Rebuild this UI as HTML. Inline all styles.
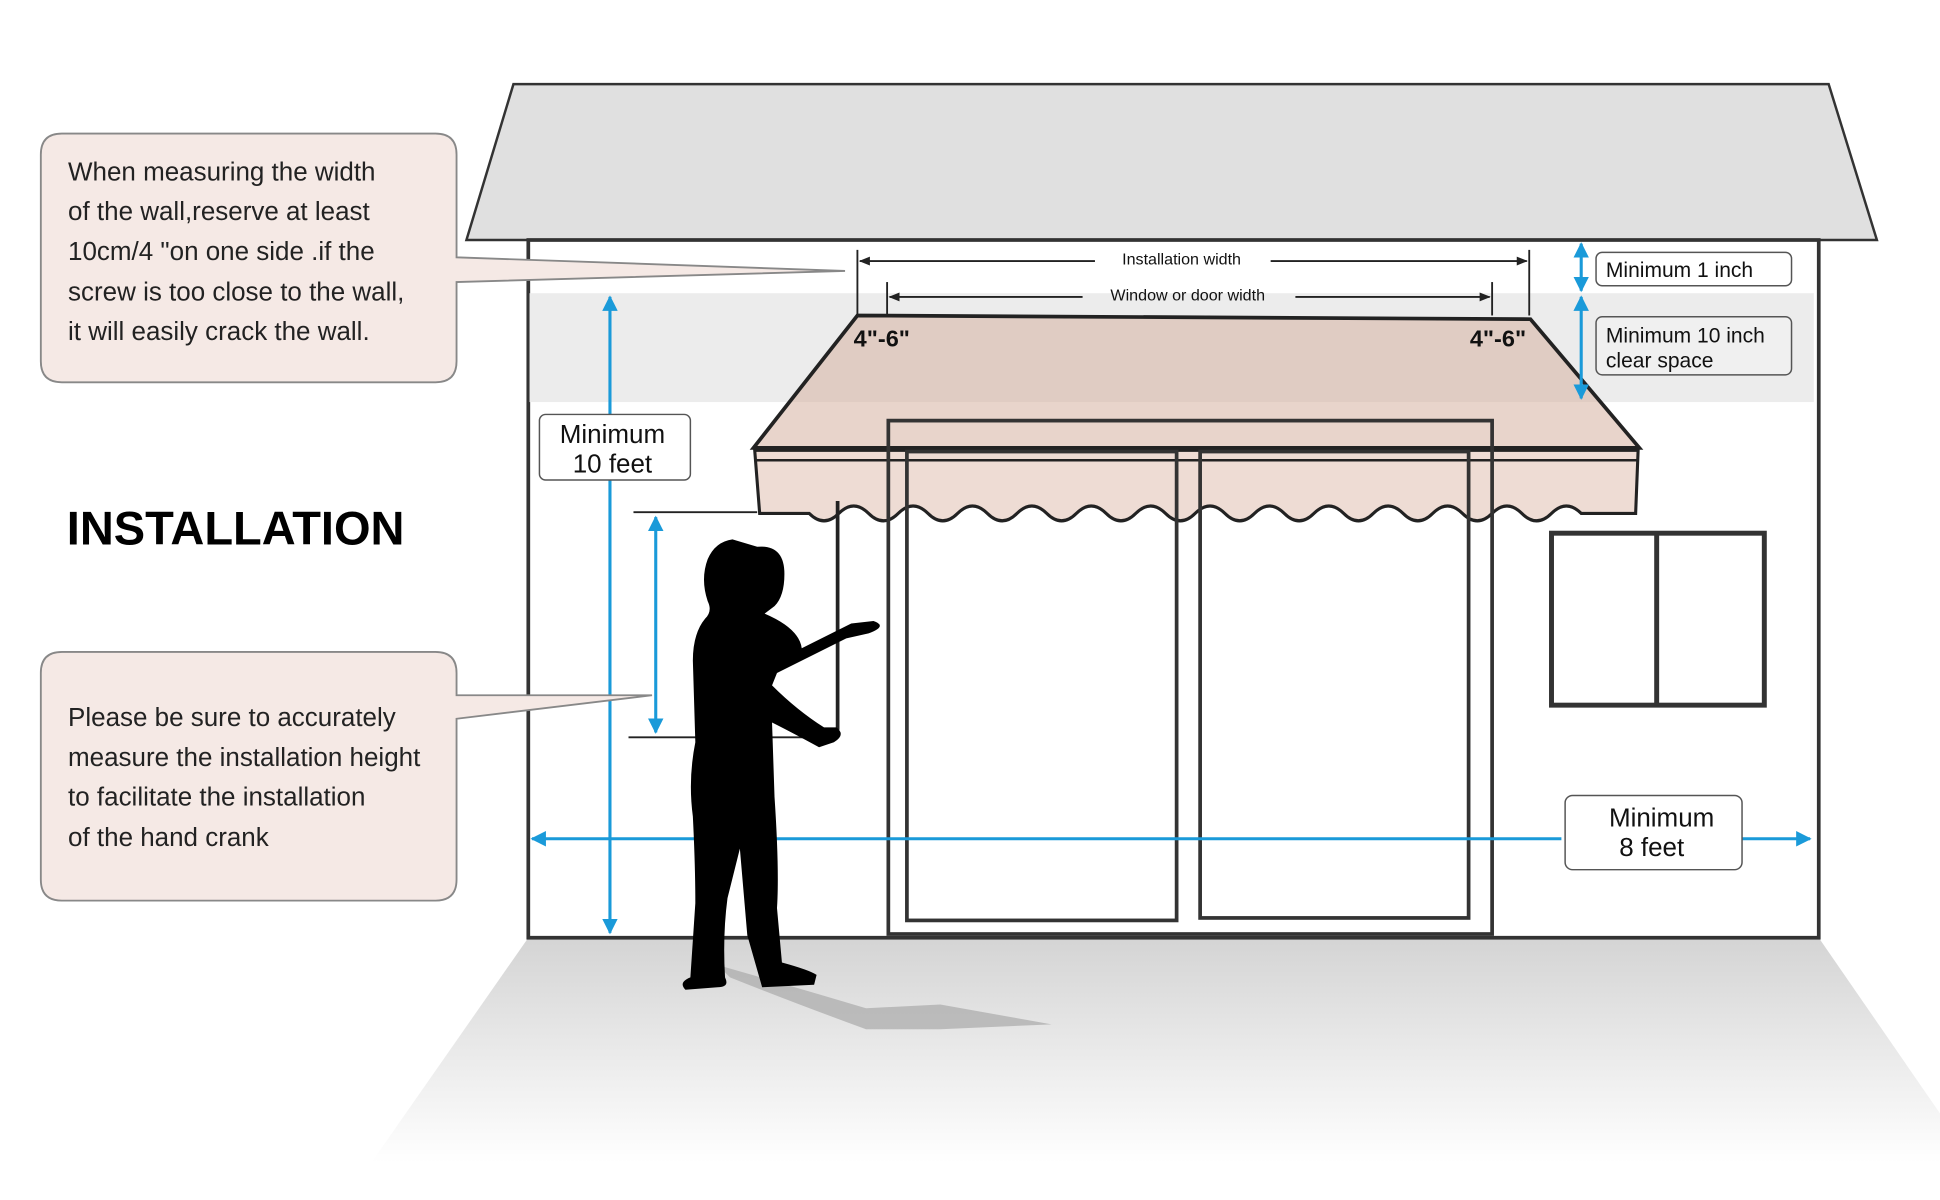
<!DOCTYPE html>
<html><head><meta charset="utf-8"><style>
html,body{margin:0;padding:0;background:#fff}
svg{display:block}
text{font-family:"Liberation Sans","DejaVu Sans",sans-serif}
</style></head><body>
<svg width="1940" height="1200" viewBox="0 0 1568 970" preserveAspectRatio="none" xmlns="http://www.w3.org/2000/svg">
<defs>
<linearGradient id="fl" x1="0" y1="0" x2="0" y2="1">
<stop offset="0" stop-color="#d4d4d4"/><stop offset="1" stop-color="#ffffff"/>
</linearGradient>
<marker id="ah" viewBox="0 0 10 10" refX="9" refY="5" markerWidth="5" markerHeight="5" orient="auto-start-reverse">
<path d="M0,0 L10,5 L0,10 z" fill="#1a9ad9"/></marker>
<marker id="bh" viewBox="0 0 10 10" refX="9" refY="5" markerWidth="6" markerHeight="6" orient="auto-start-reverse">
<path d="M0,1 L10,5 L0,9 z" fill="#222"/></marker>
</defs>
<polygon points="427,758 1470,758 1568,900 1568,940 300,940" fill="url(#fl)"/>
<polygon points="415,68 1478,68 1517,194 377,194" fill="#e0e0e0" stroke="#333" stroke-width="2"/>
<rect x="427" y="194" width="1043" height="564" fill="#fff" stroke="#333" stroke-width="3"/>
<rect x="428" y="237" width="1038" height="88" fill="#ececec"/>
<!-- awning -->
<polygon points="693,255 1237,258 1325,362 609,362" fill="#d8b8a8" fill-opacity="0.6" stroke="#222" stroke-width="3"/>
<path d="M610,364 L1324,364 L1322,415 L1278,415 q-12,-12 -24,0 q-12,12 -24,0 q-12,-12 -24,0 q-12,12 -24,0 q-12,-12 -24,0 q-12,12 -24,0 q-12,-12 -24,0 q-12,12 -24,0 q-12,-12 -24,0 q-12,12 -24,0 q-12,-12 -24,0 q-12,12 -24,0 q-12,-12 -24,0 q-12,12 -24,0 q-12,-12 -24,0 q-12,12 -24,0 q-12,-12 -24,0 q-12,12 -24,0 q-12,-12 -24,0 q-12,12 -24,0 q-12,-12 -24,0 q-12,12 -24,0 q-12,-12 -24,0 q-12,12 -24,0 q-12,-12 -24,0 q-12,12 -24,0 L614,415 Z" fill="#e8d0c5" fill-opacity="0.75" stroke="#222" stroke-width="2.5"/>
<line x1="610" y1="372" x2="1324" y2="372" stroke="#222" stroke-width="2"/>
<!-- door (drawn over, visible through awning) -->
<rect x="718" y="340" width="488" height="415" fill="none" stroke="#333" stroke-width="3"/>
<rect x="733" y="365" width="218" height="379" fill="none" stroke="#333" stroke-width="3"/>
<rect x="970" y="365" width="217" height="377" fill="none" stroke="#333" stroke-width="3"/>
<rect x="1254" y="431" width="172" height="139" fill="#fff" stroke="#333" stroke-width="4"/>
<line x1="1339" y1="431" x2="1339" y2="570" stroke="#333" stroke-width="4"/>
<!-- width dims -->
<line x1="693" y1="202" x2="693" y2="255" stroke="#222" stroke-width="1.5"/>
<line x1="1236" y1="202" x2="1236" y2="255" stroke="#222" stroke-width="1.5"/>
<line x1="717" y1="228" x2="717" y2="255" stroke="#222" stroke-width="1.5"/>
<line x1="1206" y1="228" x2="1206" y2="255" stroke="#222" stroke-width="1.5"/>
<line x1="695" y1="211" x2="885" y2="211" stroke="#222" stroke-width="1.5" marker-start="url(#bh)"/>
<line x1="1027" y1="211" x2="1234" y2="211" stroke="#222" stroke-width="1.5" marker-end="url(#bh)"/>
<text x="955" y="214" font-size="13" text-anchor="middle" fill="#111">Installation  width</text>
<line x1="719" y1="240" x2="875" y2="240" stroke="#222" stroke-width="1.5" marker-start="url(#bh)"/>
<line x1="1047" y1="240" x2="1204" y2="240" stroke="#222" stroke-width="1.5" marker-end="url(#bh)"/>
<text x="960" y="243" font-size="13" text-anchor="middle" fill="#111">Window or door width</text>
<text x="690" y="280" font-size="19" font-weight="bold" fill="#111">4"-6"</text>
<text x="1188" y="280" font-size="19" font-weight="bold" fill="#111">4"-6"</text>
<line x1="1278" y1="197" x2="1278" y2="235" stroke="#1a9ad9" stroke-width="2.5" marker-start="url(#ah)" marker-end="url(#ah)"/>
<line x1="1278" y1="240" x2="1278" y2="322" stroke="#1a9ad9" stroke-width="2.5" marker-start="url(#ah)" marker-end="url(#ah)"/>
<rect x="1290" y="204" width="158" height="27" rx="5" fill="#fff" stroke="#555" stroke-width="1.2"/>
<text x="1298" y="224" font-size="17" fill="#111">Minimum  1 inch</text>
<rect x="1290" y="256" width="158" height="47" rx="5" fill="#f0f0f0" stroke="#555" stroke-width="1.2"/>
<text x="1298" y="277" font-size="17" fill="#111">Minimum  10 inch</text>
<text x="1298" y="297" font-size="17" fill="#111">clear space</text>
<line x1="493" y1="240" x2="493" y2="754" stroke="#1a9ad9" stroke-width="2.5" marker-start="url(#ah)" marker-end="url(#ah)"/>
<rect x="436" y="335" width="122" height="53" rx="5" fill="#fff" stroke="#555" stroke-width="1.2"/>
<text x="495" y="358" font-size="21" text-anchor="middle" fill="#111">Minimum</text>
<text x="495" y="382" font-size="21" text-anchor="middle" fill="#111">10 feet</text>
<line x1="430" y1="678" x2="1262" y2="678" stroke="#1a9ad9" stroke-width="2.5" marker-start="url(#ah)"/>
<line x1="1408" y1="678" x2="1463" y2="678" stroke="#1a9ad9" stroke-width="2.5" marker-end="url(#ah)"/>
<rect x="1265" y="643" width="143" height="60" rx="6" fill="#fff" stroke="#555" stroke-width="1.2"/>
<text x="1343" y="668" font-size="21" text-anchor="middle" fill="#111">Minimum</text>
<text x="1335" y="692" font-size="21" text-anchor="middle" fill="#111">8 feet</text>
<line x1="512" y1="414" x2="612" y2="414" stroke="#222" stroke-width="1.5"/>
<line x1="508" y1="596" x2="668" y2="596" stroke="#222" stroke-width="1.5"/>
<line x1="530" y1="418" x2="530" y2="592" stroke="#1a9ad9" stroke-width="2.5" marker-start="url(#ah)" marker-end="url(#ah)"/>
<line x1="677" y1="405" x2="677" y2="590" stroke="#222" stroke-width="3"/>
<path d="M580,780 Q650,800 700,815 L760,812 L850,828 L760,832 L700,832 Q640,810 590,790 Z" fill="#aaa" opacity="0.7"/>
<path d="M612,442 q22,-2 22,22 q0,18 -8,26 l-8,6 q28,12 30,28 l40,-20 l18,-2 q12,4 -4,10 l-18,4 l-56,28 l-4,10 q20,20 42,34 l10,0 q8,6 -2,12 l-12,4 q-22,-12 -38,-20 l2,60 q4,60 2,90 l4,44 q22,6 28,10 l-2,8 l-42,2 l-12,-42 l-6,-70 l-10,40 q-4,30 -2,64 q4,8 -6,8 l-26,2 q-6,-6 4,-10 l4,-60 q0,-30 -2,-70 q-4,-30 2,-60 l-2,-66 q0,-22 10,-34 q6,-6 2,-14 q-6,-18 0,-34 q6,-14 20,-16 z" fill="#000"/>
<path d="M50,108 L352,108 Q369,108 369,125 L369,208 L683,219 L369,228 L369,292 Q369,309 352,309 L50,309 Q33,309 33,292 L33,125 Q33,108 50,108 Z" fill="#f5e9e5" stroke="#888" stroke-width="1.5"/>
<text font-size="21" fill="#222"><tspan x="55" y="146">When measuring the width</tspan><tspan x="55" y="178">of the wall,reserve at least</tspan><tspan x="55" y="210">10cm/4 "on one side .if the</tspan><tspan x="55" y="243">screw is too close to the wall,</tspan><tspan x="55" y="275">it will easily crack the wall.</tspan></text>
<path d="M50,527 L352,527 Q369,527 369,544 L369,562 L527,562 L369,581 L369,711 Q369,728 352,728 L50,728 Q33,728 33,711 L33,544 Q33,527 50,527 Z" fill="#f5e9e5" stroke="#888" stroke-width="1.5"/>
<text font-size="21" fill="#222"><tspan x="55" y="587">Please be sure to accurately</tspan><tspan x="55" y="619">measure the installation height</tspan><tspan x="55" y="651">to facilitate the installation</tspan><tspan x="55" y="684">of the hand crank</tspan></text>
<text x="54" y="440" font-size="38" font-weight="bold" fill="#000">INSTALLATION</text>
</svg>
</body></html>
